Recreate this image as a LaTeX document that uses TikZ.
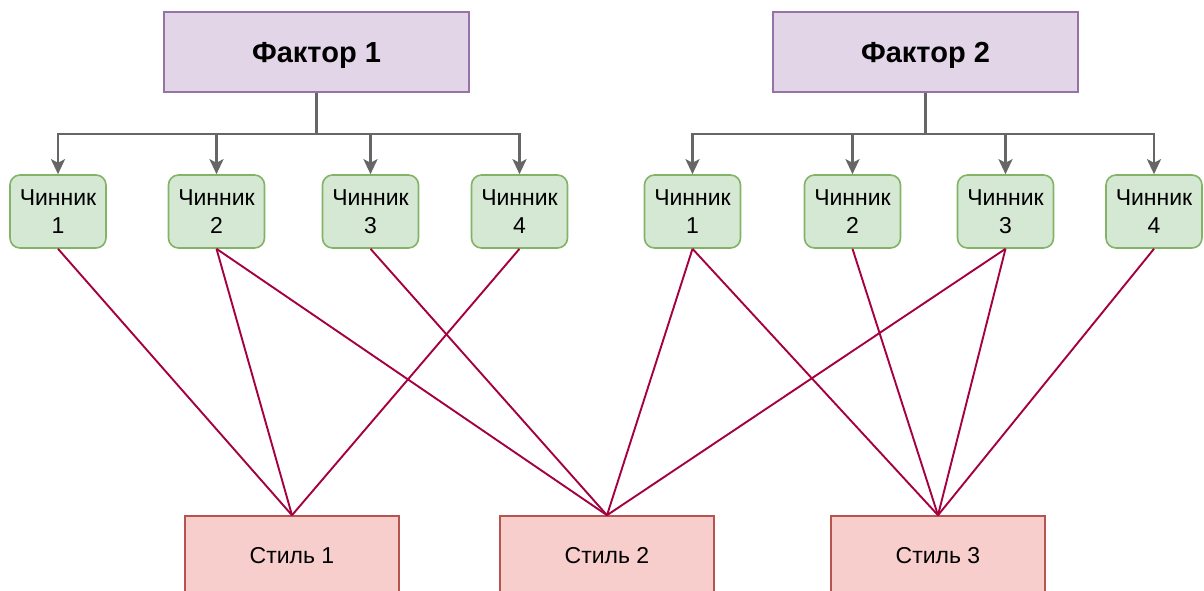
\documentclass[tikz,border=0pt]{standalone}
\usepackage{fontspec}
\setmainfont{Liberation Sans}
\usetikzlibrary{arrows.meta}
\definecolor{factfill}{HTML}{E1D5E7}
\definecolor{factline}{HTML}{9673A6}
\definecolor{chfill}{HTML}{D5E8D4}
\definecolor{chline}{HTML}{82B366}
\definecolor{stfill}{HTML}{F8CECC}
\definecolor{stline}{HTML}{B85450}
\definecolor{link}{HTML}{A50040}
\definecolor{tree}{HTML}{666666}
\tikzset{
  factor/.style={draw=factline, fill=factfill, line width=1.6pt, minimum width=305pt,
    minimum height=80pt, inner sep=0pt, text height=21pt, text depth=0pt,
    font=\fontsize{29}{34}\selectfont\bfseries},
  factorchild/.style={draw=chline, fill=chfill, line width=1.6pt, rounded corners=10pt,
    minimum width=96pt, minimum height=73pt, inner sep=0pt, align=center,
    font=\fontsize{23}{28}\selectfont},
  stylebox/.style={draw=stline, fill=stfill, line width=1.6pt, minimum width=214pt,
    minimum height=80pt, inner sep=0pt, font=\fontsize{23}{28}\selectfont},
  treeline/.style={draw=tree, line width=2.4pt, -{Stealth[length=15pt,width=14pt,inset=3.5pt]}},
  linkline/.style={draw=link, line width=1.9pt},
}
\begin{document}
\begin{tikzpicture}[x=1pt, y=-1pt]
\useasboundingbox (0,0) rectangle (1204,590);
\clip (0,0) rectangle (1204,590);

% factors
\node[factor] (f1) at (316.5,52) {Фактор 1};
\node[factor] (f2) at (925.5,52) {Фактор 2};

% sub-factors of factor 1
\node[factorchild] (a1) at (58,211.5) {Чинник\\1};
\node[factorchild] (a2) at (216.5,211.5) {Чинник\\2};
\node[factorchild] (a3) at (370.5,211.5) {Чинник\\3};
\node[factorchild] (a4) at (519.5,211.5) {Чинник\\4};
% sub-factors of factor 2
\node[factorchild] (b1) at (692.5,211.5) {Чинник\\1};
\node[factorchild] (b2) at (852.5,211.5) {Чинник\\2};
\node[factorchild] (b3) at (1005.5,211.5) {Чинник\\3};
\node[factorchild] (b4) at (1154,211.5) {Чинник\\4};

% styles
\node[stylebox] (s1) at (292,556) {Стиль 1};
\node[stylebox] (s2) at (607,556) {Стиль 2};
\node[stylebox] (s3) at (938,556) {Стиль 3};

% tree connectors
\foreach \c in {a1,a2,a3,a4}
  \draw[treeline] (f1.south) -- ++(0,41) -| (\c.north);
\foreach \c in {b1,b2,b3,b4}
  \draw[treeline] (f2.south) -- ++(0,41) -| (\c.north);

% links from sub-factors to styles
\foreach \c in {a1,a2,a4}
  \draw[linkline] (\c.south) -- (s1.north);
\foreach \c in {a2,a3,b1,b3}
  \draw[linkline] (\c.south) -- (s2.north);
\foreach \c in {b1,b2,b3,b4}
  \draw[linkline] (\c.south) -- (s3.north);
\end{tikzpicture}
\end{document}
